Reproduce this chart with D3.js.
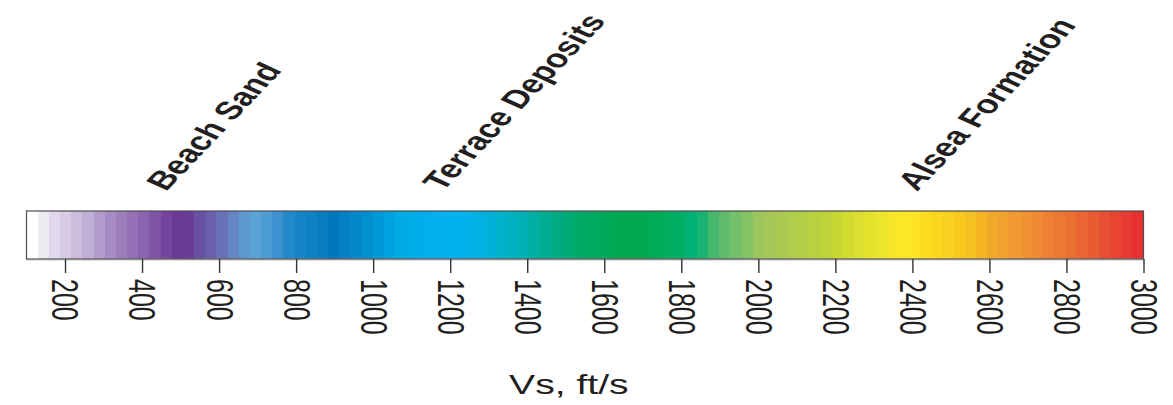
<!DOCTYPE html>
<html>
<head>
<meta charset="utf-8">
<script src="https://cdn.jsdelivr.net/npm/d3@7/dist/d3.min.js"></script>
<style>
  html, body { margin: 0; padding: 0; background: #fff; }
  svg { display: block; }
  text { font-family: "Liberation Sans", Arial, Helvetica, sans-serif; fill: #231f20; }
</style>
</head>
<body>
<svg id="chart" width="1173" height="405"></svg>
<script>
// Shear-wave velocity range covered by the colour bar (ft/s)
const vsDomain = [100, 3000];

// Colour of each bin along the bar, from slowest to fastest
const cellColors = [
  "#ffffff", "#ecebf2", "#e1d9eb", "#d7cbe5", "#ccbddd", "#c1aed6", "#b49dcd", "#a78bc4",
  "#9c7fbb", "#9471b6", "#8b63af", "#7f53a5", "#74439c", "#6a3995", "#693c98", "#6850a2",
  "#6a5fab", "#6870b6", "#6585c3", "#5f98cf", "#59a3d6", "#4d9dd5", "#3d93d1", "#228aca",
  "#1584c6", "#0e80c3", "#097cc0", "#0076bc", "#047fc4", "#0587c9", "#0090cf", "#0099d7",
  "#00a2dd", "#00aae3", "#00ade8", "#00aeeb", "#00afed", "#00b0ef", "#00b1ef", "#00b1ea",
  "#00b1e2", "#00b2d8", "#00b1cc", "#00b0bf", "#00afb1", "#00aea2", "#00ad93", "#00ab84",
  "#00aa75", "#00a968", "#00a862", "#00a85b", "#00a953", "#00a84f", "#00a84f", "#00a952",
  "#00aa57", "#00ac5e", "#00ae68", "#00b173", "#19b472", "#48b86e", "#60bc6d", "#73c06b",
  "#84c265", "#9cc55c", "#a6c757", "#abc952", "#b0cc4c", "#b3cf45", "#b8d13f", "#bdd339",
  "#c6d734", "#d1db30", "#dbdf2f", "#e3e32e", "#ece52d", "#f6e629", "#fde724", "#fde523",
  "#fddd20", "#fcd720", "#fbd121", "#f9c920", "#f6bf22", "#f4b424", "#f2a929", "#f1a22e",
  "#f19932", "#f09134", "#ef8934", "#ee8034", "#ed7833", "#ec6f32", "#ea6532", "#e95b32",
  "#e84f33", "#e74434", "#e73b34", "#e8312f"
];

// Axis tick labels
const tickValues = [200, 400, 600, 800, 1000, 1200, 1400, 1600, 1800, 2000, 2200, 2400, 2600, 2800, 3000];

// Geologic units and the velocity where each name sits
const unitNames = ["Beach Sand", "Terrace Deposits", "Alsea Formation"];
const unitVs = [462, 1180, 2412];

const axisTitle = "Vs, ft/s";
const axisTitleVs = 1508;

const svg = d3.select("#chart");
const barTop = 211, barBottom = 259;
const stretch = 1.45; // horizontal widening of the lettering

const x = d3.scaleLinear().domain(vsDomain).range([26.5, 1143.5]);
const color = d3.scaleQuantize().domain(vsDomain).range(cellColors);

// Bin edges: domain ends plus the quantize thresholds
const edges = [vsDomain[0], ...color.thresholds(), vsDomain[1]];

// Colour bins
svg.append("g")
  .selectAll("rect")
  .data(cellColors)
  .join("rect")
  .attr("x", (c, i) => x(edges[i]))
  .attr("width", (c, i) => x(edges[i + 1]) - x(edges[i]) + 0.6)
  .attr("y", barTop)
  .attr("height", barBottom - barTop)
  .attr("fill", c => c)
  .attr("shape-rendering", "crispEdges");

// Outline of the bar
svg.append("rect")
  .attr("x", x(vsDomain[0]))
  .attr("y", barTop)
  .attr("width", x(vsDomain[1]) - x(vsDomain[0]))
  .attr("height", barBottom - barTop)
  .attr("fill", "none")
  .attr("stroke", "#4d4d4f")
  .attr("stroke-width", 1.2);

// Axis below the bar
const axis = d3.axisBottom(x).tickValues(tickValues).tickSize(14).tickSizeOuter(0).tickFormat(d3.format("d"));
const gAxis = svg.append("g")
  .attr("transform", `translate(0,${barBottom})`)
  .call(axis);
gAxis.select(".domain").attr("stroke", "#8a8a8c").attr("stroke-width", 1.6);
gAxis.selectAll(".tick line").attr("stroke", "#333").attr("stroke-width", 1.4);
gAxis.selectAll(".tick text")
  .attr("x", 0).attr("y", 0).attr("dy", "0.36em")
  .attr("text-anchor", "start")
  .attr("transform", `translate(0,20) scale(${stretch},1) rotate(90)`)
  .style("font-size", "25px")
  .style("font-family", "'Liberation Sans', Arial, sans-serif")
  .attr("fill", "#231f20");

// Axis title
svg.append("text")
  .attr("transform", `translate(${x(axisTitleVs)},394) scale(${stretch},1)`)
  .attr("text-anchor", "middle")
  .style("font-size", "27px")
  .text(axisTitle);

// Unit names, slanted above the bar
svg.append("g")
  .selectAll("text")
  .data(unitNames)
  .join("text")
  .attr("transform", (d, i) => `translate(${x(unitVs[i])},192) scale(${stretch},1) rotate(-56.5)`)
  .style("font-size", "25.5px")
  .style("font-weight", "bold")
  .text(d => d);
</script>
</body>
</html>
